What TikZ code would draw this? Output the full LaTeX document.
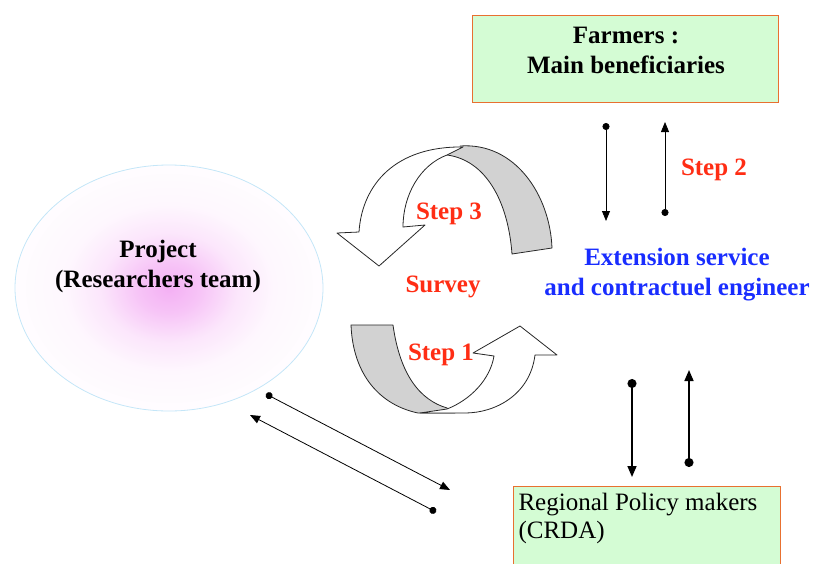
\documentclass[tikz,border=0pt]{standalone}
\usepackage{fontspec}
\setmainfont{Liberation Serif}
\usetikzlibrary{shapes.geometric,arrows.meta}

\definecolor{boxgreen}{RGB}{212,252,212}
\definecolor{boxedge}{RGB}{232,112,48}
\definecolor{stepred}{RGB}{255,45,20}
\definecolor{extblue}{RGB}{25,45,255}
\definecolor{rimblue}{RGB}{196,230,248}
\definecolor{pinkcore}{RGB}{244,176,244}

% soft pink glow that fades out towards the rim
\pgfdeclareradialshading{glow}{\pgfpoint{0bp}{0bp}}{%
  color(0bp)=(pinkcore); color(5bp)=(pinkcore!75!white);
  color(11bp)=(pinkcore!32!white); color(17bp)=(pinkcore!10!white);
  color(25bp)=(pinkcore!3!white); color(50bp)=(white)}

\tikzset{
  lbl/.style={font=\bfseries\fontsize{25}{30}\selectfont, align=center},
  steplbl/.style={lbl, text=stepred},
  greenbox/.style={draw=boxedge, fill=boxgreen, line width=1pt},
  ribbon/.style={draw=black!85, line width=0.8pt, line join=round},
  thinlink/.style={draw=black, line width=0.8pt,
    {Circle[length=7pt]}-{Triangle[length=10pt,width=8pt]}},
  thicklink/.style={draw=black, line width=1.6pt,
    {Circle[length=9pt]}-{Triangle[length=11pt,width=9pt]}},
}

\begin{document}
\begin{tikzpicture}[x=1pt, y=-1pt]
  \useasboundingbox (0,0) rectangle (814,563);

	% project bubble
	\node[ellipse, draw=rimblue, line width=0.8pt, shade, shading=glow,
	  minimum width=308pt, minimum height=246pt] (project) at (169,288) {};
	\node[lbl] (projectlbl) at (158,266) {Project\\(Researchers team)};

	% boxes
	\node[greenbox, minimum width=306pt, minimum height=87pt] (farmers) at (625,58.5) {};
	\node[lbl] (farmerslbl) at (626,50) {Farmers :\\Main beneficiaries};

	\draw[greenbox] (513,486) rectangle (780,600);
	\node[anchor=north west, align=left, font=\fontsize{25}{28}\selectfont] (crda) at (515,490)
	  {Regional Policy makers\\(CRDA)};

	% middle labels
	\node[steplbl] (survey) at (443,287) {Survey};
	\node[lbl, text=extblue] (extension) at (677,275) {Extension service\\and contractuel engineer};
	\node[steplbl] (step3) at (449,214) {Step 3};
	\node[steplbl] (step1) at (441,355) {Step 1};
	\node[steplbl] (step2) at (714,170) {Step 2};

	% upper turning arrow (back face first)
	\fill[gray!35] (447,155) -- (460,146) .. controls (515,142) and (550,195) .. (552,248)
	  -- (512,254) .. controls (508,200) and (485,160) .. (447,155) -- cycle;
	\draw[ribbon] (460,146) .. controls (515,142) and (550,195) .. (552,248)
	  -- (512,254) .. controls (508,200) and (485,160) .. (447,155);
	\draw[ribbon, fill=white] (463,147) .. controls (395,146) and (362,185) .. (359,232)
	  -- (337,233) -- (379,266) -- (425,225) -- (403,227)
	  .. controls (403,195) and (420,165) .. (447,155) -- cycle;

	% lower turning arrow
	\draw[ribbon, fill=gray!35] (351,325) -- (393,325) .. controls (400,375) and (420,400) .. (447,408)
	  -- (455,413) -- (418,413) .. controls (380,405) and (353,375) .. (351,325) -- cycle;
	\draw[ribbon, fill=white] (447,409) .. controls (470,400) and (490,380) .. (494,356)
	  -- (473,353) -- (520,326) -- (557,355) -- (535,355)
	  .. controls (530,395) and (495,413) .. (465,413) -- (420,413) -- cycle;

	% links between the actors
	\coordinate (fdownS) at (606,123);
	\coordinate (fdownE) at (606,221);
	\coordinate (fupS) at (665,216);
	\coordinate (fupE) at (665,122);
	\coordinate (cdownS) at (632,379);
	\coordinate (cdownE) at (632,477);
	\coordinate (cupS) at (689,467);
	\coordinate (cupE) at (689,370);
	\coordinate (pdownS) at (266,394);
	\coordinate (pdownE) at (450,490);
	\coordinate (pupS) at (436,512);
	\coordinate (pupE) at (250,415);

	\draw[thinlink] (fdownS) -- (fdownE);
	\draw[thinlink] (fupS) -- (fupE);
	\draw[thicklink] (cdownS) -- (cdownE);
	\draw[thicklink] (cupS) -- (cupE);
	\draw[thinlink] (pdownS) -- (pdownE);
	\draw[thinlink] (pupS) -- (pupE);
\end{tikzpicture}
\end{document}
